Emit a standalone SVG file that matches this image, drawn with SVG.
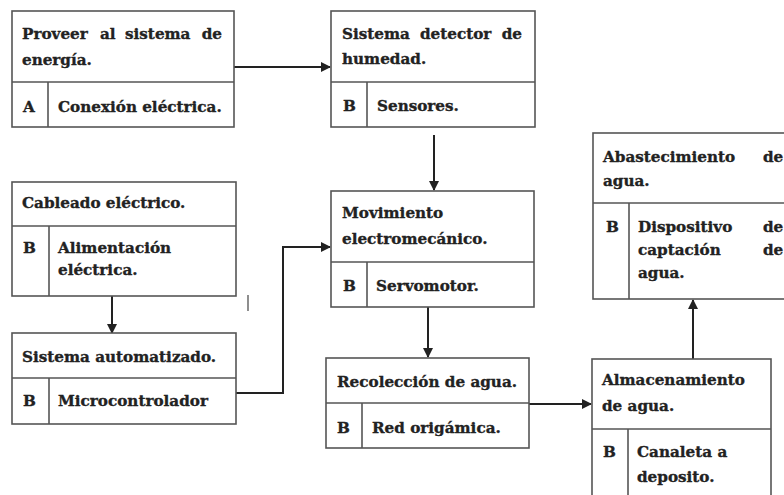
<svg xmlns="http://www.w3.org/2000/svg" width="784" height="495" viewBox="0 0 784 495">
<defs>
<style>
.box{fill:#fff;stroke:#555;stroke-width:1.6}
.div{stroke:#555;stroke-width:1.6;fill:none}
.t{font-family:"DejaVu Serif","Liberation Serif",serif;font-weight:bold;font-size:15.2px;fill:#222;stroke:#222;stroke-width:0.35}
.e{text-anchor:end}
.con{stroke:#222;stroke-width:2;fill:none}
</style>
<marker id="ah" viewBox="0 0 10 10" refX="9" refY="5" markerWidth="5" markerHeight="5" orient="auto" markerUnits="strokeWidth">
<path d="M0,0 L10,5 L0,10 z" fill="#222"/>
</marker>
</defs>
<rect width="784" height="495" fill="#fff"/>

<g id="connectors">
<line class="con" x1="234" y1="67" x2="330" y2="67" marker-end="url(#ah)"/>
<line class="con" x1="434" y1="135" x2="434" y2="190" marker-end="url(#ah)"/>
<line class="con" x1="112" y1="296" x2="112" y2="333" marker-end="url(#ah)"/>
<polyline class="con" points="236,393 283,393 283,247 330,247" marker-end="url(#ah)"/>
<line class="con" x1="428" y1="307" x2="428" y2="357" marker-end="url(#ah)"/>
<line class="con" x1="529" y1="404" x2="591" y2="404" marker-end="url(#ah)"/>
<line class="con" x1="693" y1="359" x2="693" y2="300" marker-end="url(#ah)"/>
</g>

<g id="node-proveer">
<rect class="box" x="12" y="11" width="222" height="116"/>
<line class="div" x1="12" y1="82" x2="234" y2="82"/>
<line class="div" x1="48" y1="82" x2="48" y2="127"/>
<text class="t" y="39"><tspan x="22">Proveer</tspan><tspan x="100">al</tspan><tspan x="125">sistema</tspan><tspan x="222" class="e">de</tspan></text>
<text class="t" x="22" y="65">energía.</text>
<text class="t" x="23" y="112">A</text>
<text class="t" x="58" y="112">Conexión eléctrica.</text>
</g>

<g id="node-detector">
<rect class="box" x="331" y="11" width="204" height="116"/>
<line class="div" x1="331" y1="82" x2="535" y2="82"/>
<line class="div" x1="367" y1="82" x2="367" y2="127"/>
<text class="t" y="39"><tspan x="342">Sistema</tspan><tspan x="420">detector</tspan><tspan x="522" class="e">de</tspan></text>
<text class="t" x="342" y="64">humedad.</text>
<text class="t" x="343" y="111">B</text>
<text class="t" x="377" y="111">Sensores.</text>
</g>

<g id="node-cableado">
<rect class="box" x="12" y="182" width="224" height="114"/>
<line class="div" x1="12" y1="226" x2="236" y2="226"/>
<line class="div" x1="49" y1="226" x2="49" y2="296"/>
<text class="t" x="22" y="208">Cableado eléctrico.</text>
<text class="t" x="23" y="253">B</text>
<text class="t" x="58" y="253">Alimentación</text>
<text class="t" x="58" y="275">eléctrica.</text>
</g>

<g id="node-automatizado">
<rect class="box" x="12" y="333" width="224" height="91"/>
<line class="div" x1="12" y1="378" x2="236" y2="378"/>
<line class="div" x1="49" y1="378" x2="49" y2="424"/>
<text class="t" x="22" y="362">Sistema automatizado.</text>
<text class="t" x="23" y="406">B</text>
<text class="t" x="58" y="406">Microcontrolador</text>
</g>

<line x1="248" y1="295" x2="248" y2="311" stroke="#444" stroke-width="1.2"/>

<g id="node-movimiento">
<rect class="box" x="331" y="191" width="203" height="116"/>
<line class="div" x1="331" y1="262" x2="534" y2="262"/>
<line class="div" x1="367" y1="262" x2="367" y2="307"/>
<text class="t" x="342" y="218">Movimiento</text>
<text class="t" x="342" y="244">electromecánico.</text>
<text class="t" x="343" y="291">B</text>
<text class="t" x="376" y="291">Servomotor.</text>
</g>

<g id="node-recoleccion">
<rect class="box" x="326" y="358" width="203" height="90"/>
<line class="div" x1="326" y1="403" x2="529" y2="403"/>
<line class="div" x1="362" y1="403" x2="362" y2="448"/>
<text class="t" x="337" y="387">Recolección de agua.</text>
<text class="t" x="337" y="433">B</text>
<text class="t" x="372" y="433">Red origámica.</text>
</g>

<g id="node-abastecimiento">
<rect class="box" x="593" y="133" width="200" height="166"/>
<line class="div" x1="593" y1="203" x2="793" y2="203"/>
<line class="div" x1="629" y1="203" x2="629" y2="299"/>
<text class="t" x="603" y="162">Abastecimiento</text>
<text class="t" x="763" y="162">de</text>
<text class="t" x="603" y="186">agua.</text>
<text class="t" x="606" y="232">B</text>
<text class="t" x="638" y="232">Dispositivo</text>
<text class="t" x="763" y="232">de</text>
<text class="t" x="638" y="255">captación</text>
<text class="t" x="763" y="255">de</text>
<text class="t" x="638" y="278">agua.</text>
</g>

<g id="node-almacenamiento">
<rect class="box" x="592" y="359" width="179" height="145"/>
<line class="div" x1="592" y1="429" x2="771" y2="429"/>
<line class="div" x1="628" y1="429" x2="628" y2="504"/>
<text class="t" x="602" y="385">Almacenamiento</text>
<text class="t" x="602" y="411">de agua.</text>
<text class="t" x="603" y="457">B</text>
<text class="t" x="637" y="457">Canaleta a</text>
<text class="t" x="637" y="482">deposito.</text>
</g>
</svg>
